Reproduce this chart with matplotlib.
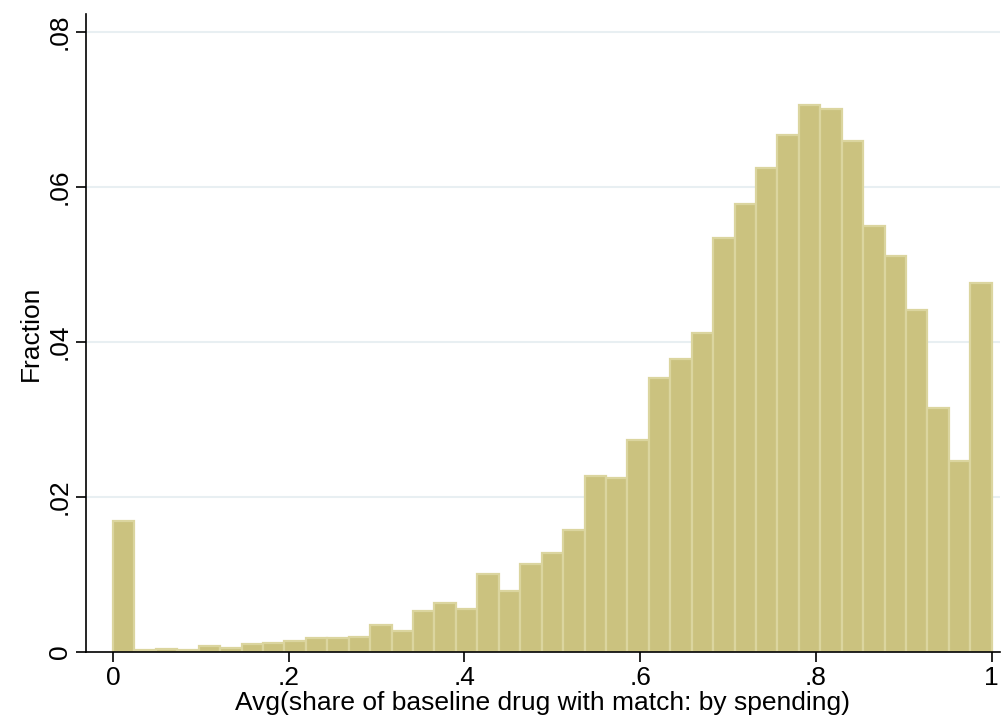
import numpy as np
import matplotlib.pyplot as plt

plt.rcParams['font.family'] = ['Liberation Sans', 'DejaVu Sans']

# 41 equal-width bins on [0, 1]
nbins = 41
fraction = [0.0169, 0.0002, 0.0004, 0.0002, 0.0008, 0.0005, 0.0010, 0.0012,
            0.0014, 0.0018, 0.0018, 0.0019, 0.0035, 0.0027, 0.0053, 0.0063,
            0.0055, 0.0100, 0.0079, 0.0113, 0.0128, 0.0157, 0.0227, 0.0225,
            0.0274, 0.0354, 0.0378, 0.0411, 0.0534, 0.0578, 0.0624, 0.0667,
            0.0705, 0.0701, 0.0659, 0.0550, 0.0511, 0.0441, 0.0315, 0.0246,
            0.0476]
xticks = [0, 0.2, 0.4, 0.6, 0.8, 1.0]
xticklabels = ["0", ".2", ".4", ".6", ".8", "1"]
yticks = [0, 0.02, 0.04, 0.06, 0.08]
yticklabels = ["0", ".02", ".04", ".06", ".08"]

edges = np.linspace(0, 1, nbins + 1)
width = edges[1] - edges[0]

fig = plt.figure(figsize=(10.03, 7.23), dpi=100)
ax = fig.add_axes([0.0857, 0.0982, 0.911, 0.8824])

for y in yticks[1:]:
    ax.axhline(y, color="#e8eff2", lw=1.5, zorder=0)

ax.bar(edges[:-1], fraction, width=width, align="edge",
       color="#cbc27f", edgecolor="#dbd59f", linewidth=1.6, zorder=2)

ax.set_xlim(-0.0307, 1.009)
ax.set_ylim(0, 0.0823)

ax.spines["top"].set_visible(False)
ax.spines["right"].set_visible(False)
for s in ["left", "bottom"]:
    ax.spines[s].set_linewidth(1.2)
    ax.spines[s].set_zorder(3)

ax.set_xticks(xticks)
ax.set_xticklabels(xticklabels, fontsize=19)
ax.set_yticks(yticks)
ax.set_yticklabels(yticklabels, fontsize=19, rotation=90, va="center")
ax.tick_params(direction="out", length=7, width=1.2, pad=3)

ax.set_xlabel("Avg(share of baseline drug with match: by spending)", fontsize=19, labelpad=1)
ax.set_ylabel("Fraction", fontsize=19, labelpad=4)

fig.savefig("out.png", dpi=100)
